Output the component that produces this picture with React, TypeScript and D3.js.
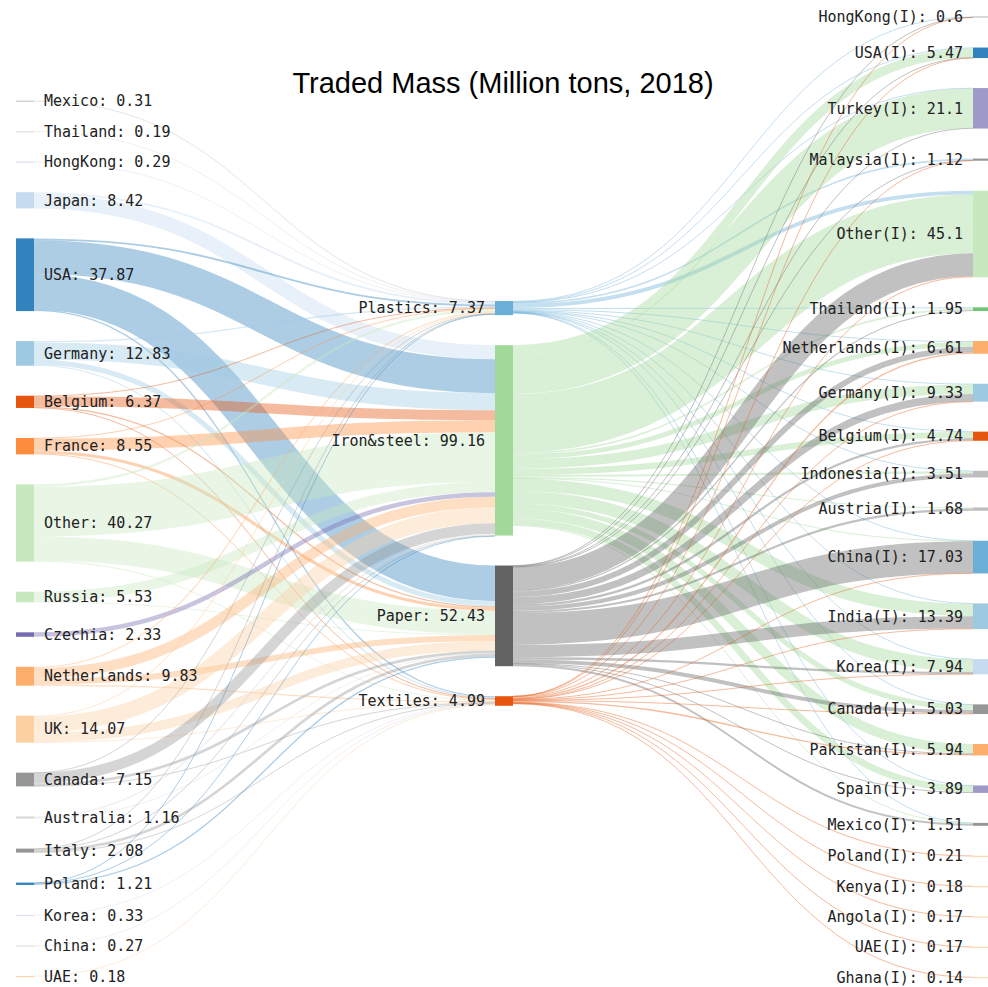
import React from "react";
import * as d3 from "d3";

// ---------- DATA (million tons, 2018) ----------
const exporters = ["Mexico", "Thailand", "HongKong", "Japan", "USA", "Germany", "Belgium", "France", "Other", "Russia", "Czechia", "Netherlands", "UK", "Canada", "Australia", "Italy", "Poland", "Korea", "China", "UAE"];
const exporterValues = [0.31, 0.19, 0.29, 8.42, 37.87, 12.83, 6.37, 8.55, 40.27, 5.53, 2.33, 9.83, 14.07, 7.15, 1.16, 2.08, 1.21, 0.33, 0.27, 0.18];

const materials = ["Plastics", "Iron&steel", "Paper", "Textiles"];
const materialValues = [7.37, 99.16, 52.43, 4.99];

const importers = ["HongKong(I)", "USA(I)", "Turkey(I)", "Malaysia(I)", "Other(I)", "Thailand(I)", "Netherlands(I)", "Germany(I)", "Belgium(I)", "Indonesia(I)", "Austria(I)", "China(I)", "India(I)", "Korea(I)", "Canada(I)", "Pakistan(I)", "Spain(I)", "Mexico(I)", "Poland(I)", "Kenya(I)", "Angola(I)", "UAE(I)", "Ghana(I)"];
const importerValues = [0.6, 5.47, 21.1, 1.12, 45.1, 1.95, 6.61, 9.33, 4.74, 3.51, 1.68, 17.03, 13.39, 7.94, 5.03, 5.94, 3.89, 1.51, 0.21, 0.18, 0.17, 0.17, 0.14];

// exporter -> material flows (same order as exporters)
const exportPlastics = [0.31, 0.19, 0.29, 1.02, 1.0, 0.7, 0.3, 0.3, 1.2, 0, 0, 0.6, 0.6, 0.1, 0, 0.2, 0.21, 0, 0, 0];
const exportIron = [0, 0, 0, 7.4, 17.6, 8.9, 5.2, 6.2, 26, 5.3, 2.33, 5.5, 8.3, 5.5, 0.8, 0.3, 0.3, 0, 0, 0];
const exportPaper = [0, 0, 0, 0, 18.6, 2.7, 0.6, 1.6, 12.5, 0.23, 0, 3.1, 4.9, 1.4, 0.36, 1.4, 0.7, 0, 0, 0];
const exportTextiles = [0, 0, 0, 0, 0.67, 0.53, 0.27, 0.45, 0.57, 0, 0, 0.63, 0.27, 0.15, 0, 0.18, 0, 0.33, 0.27, 0.18];

// material -> importer flows (same order as importers)
const importPlastics = [0.45, 0.3, 0.1, 0.85, 2.0, 0.55, 0.5, 0.4, 0.14, 0.31, 0, 0.1, 0.15, 0.1, 0.2, 0, 0.09, 0.11, 0, 0, 0, 0, 0];
const importIron = [0, 4.8, 20.7, 0, 30.6, 0.8, 2.5, 5.0, 3.2, 1.1, 0.58, 0.2, 6.5, 6.5, 2.7, 5.0, 3.5, 0.4, 0, 0, 0, 0, 0];
const importPaper = [0.1, 0.3, 0.3, 0.2, 12.0, 0.6, 3.0, 3.8, 1.2, 2.1, 1.1, 16.6, 6.4, 1.2, 2.0, 0.24, 0.3, 1.0, 0, 0, 0, 0, 0];
const importTextiles = [0.05, 0.07, 0, 0.07, 0.5, 0, 0.61, 0.13, 0.2, 0, 0, 0.13, 0.34, 0.14, 0.13, 0.7, 0, 0, 0.21, 0.18, 0.17, 0.17, 0.14];

// ---------- STYLE ----------
const nodeColor: Record<string, string> = {
  Mexico: "#bdbdbd", Thailand: "#d9d9d9", HongKong: "#dadaeb", Japan: "#c6dbef", USA: "#3182bd",
  Germany: "#9ecae1", Belgium: "#e6550d", France: "#fd8d3c", Other: "#c7e9c0", Russia: "#c7e9c0",
  Czechia: "#756bb1", Netherlands: "#fdae6b", UK: "#fdd0a2", Canada: "#969696", Australia: "#d9d9d9",
  Italy: "#969696", Poland: "#3182bd", Korea: "#dadaeb", China: "#d9d9d9", UAE: "#fdd0a2",
  Plastics: "#6baed6", "Iron&steel": "#a1d99b", Paper: "#636363", Textiles: "#e6550d",
  "HongKong(I)": "#bdbdbd", "USA(I)": "#3182bd", "Turkey(I)": "#9e9ac8", "Malaysia(I)": "#969696",
  "Other(I)": "#c7e9c0", "Thailand(I)": "#74c476", "Netherlands(I)": "#fdae6b", "Germany(I)": "#9ecae1",
  "Belgium(I)": "#e6550d", "Indonesia(I)": "#bdbdbd", "Austria(I)": "#bdbdbd", "China(I)": "#6baed6",
  "India(I)": "#9ecae1", "Korea(I)": "#c6dbef", "Canada(I)": "#969696", "Pakistan(I)": "#fdae6b",
  "Spain(I)": "#9e9ac8", "Mexico(I)": "#969696", "Poland(I)": "#fdd0a2", "Kenya(I)": "#fdd0a2",
  "Angola(I)": "#fdd0a2", "UAE(I)": "#fdd0a2", "Ghana(I)": "#fdd0a2",
};

const W = 988;
const H = 987;
const NODE_W = 18;
const PAD = 30;
const columnX = [16, 495, 973];
const columnTop = [100.7, 301, 16.4];

type Node = { name: string; value: number; col: number; x0: number; x1: number; y0: number; y1: number; out: Link[]; inn: Link[] };
type Link = { source: Node; target: Node; value: number; width: number; y0: number; y1: number };

function buildLayout() {
  const h = d3.scaleLinear().domain([0, 1]).range([0, 1.92]);
  const makeCol = (names: string[], values: number[], col: number): Node[] => {
    let y = columnTop[col];
    return names.map((name, i) => {
      const hh = h(values[i]);
      const n: Node = { name, value: values[i], col, x0: columnX[col], x1: columnX[col] + NODE_W, y0: y, y1: y + hh, out: [], inn: [] };
      y += hh + PAD;
      return n;
    });
  };
  const left = makeCol(exporters, exporterValues, 0);
  const mid = makeCol(materials, materialValues, 1);
  const right = makeCol(importers, importerValues, 2);

  const links: Link[] = [];
  const add = (s: Node, t: Node, v: number) => {
    if (v <= 0) return;
    const l: Link = { source: s, target: t, value: v, width: h(v), y0: 0, y1: 0 };
    s.out.push(l);
    t.inn.push(l);
    links.push(l);
  };
  const exp = [exportPlastics, exportIron, exportPaper, exportTextiles];
  const imp = [importPlastics, importIron, importPaper, importTextiles];
  left.forEach((n, i) => mid.forEach((m, k) => add(n, m, exp[k][i])));
  mid.forEach((m, k) => right.forEach((n, j) => add(m, n, imp[k][j])));

  [...left, ...mid, ...right].forEach((n) => {
    n.out.sort((a, b) => a.target.y0 - b.target.y0);
    n.inn.sort((a, b) => a.source.y0 - b.source.y0);
    let y = n.y0;
    n.out.forEach((l) => { l.y0 = y + l.width / 2; y += l.width; });
    y = n.y0;
    n.inn.forEach((l) => { l.y1 = y + l.width / 2; y += l.width; });
  });
  return { nodes: [...left, ...mid, ...right], links };
}

export default function App() {
  const { nodes, links } = buildLayout();
  const linkPath = d3.linkHorizontal<any, [number, number]>().source((d: any) => d.s).target((d: any) => d.t);
  return (
    <svg width={W} height={H} style={{ position: "absolute", left: 0, top: 0, background: "#fff" }}>
      <g>
        {links.map((l, i) => (
          <path
            key={i}
            d={linkPath({ s: [l.source.x1, l.y0], t: [l.target.x0, l.y1] } as any) || ""}
            fill="none"
            stroke={nodeColor[l.source.name]}
            strokeOpacity={0.4}
            strokeWidth={Math.max(1, l.width)}
          />
        ))}
      </g>
      <g>
        {nodes.map((n, i) => (
          <rect key={i} x={n.x0} y={n.y0} width={n.x1 - n.x0} height={Math.max(1, n.y1 - n.y0)} fill={nodeColor[n.name]} />
        ))}
      </g>
      <g fontFamily="'DejaVu Sans Mono', monospace" fontSize={15} fill="#222">
        {nodes.map((n, i) => (
          <text
            key={i}
            x={n.col === 0 ? n.x1 + 10 : n.x0 - 10}
            y={(n.y0 + n.y1) / 2}
            dy="0.35em"
            textAnchor={n.col === 0 ? "start" : "end"}
          >
            {`${n.name}: ${n.value}`}
          </text>
        ))}
      </g>
      <text x={503} y={93} textAnchor="middle" fontFamily="'Liberation Sans', Arial, sans-serif" fontSize={29} fill="#000">
        Traded Mass (Million tons, 2018)
      </text>
    </svg>
  );
}
